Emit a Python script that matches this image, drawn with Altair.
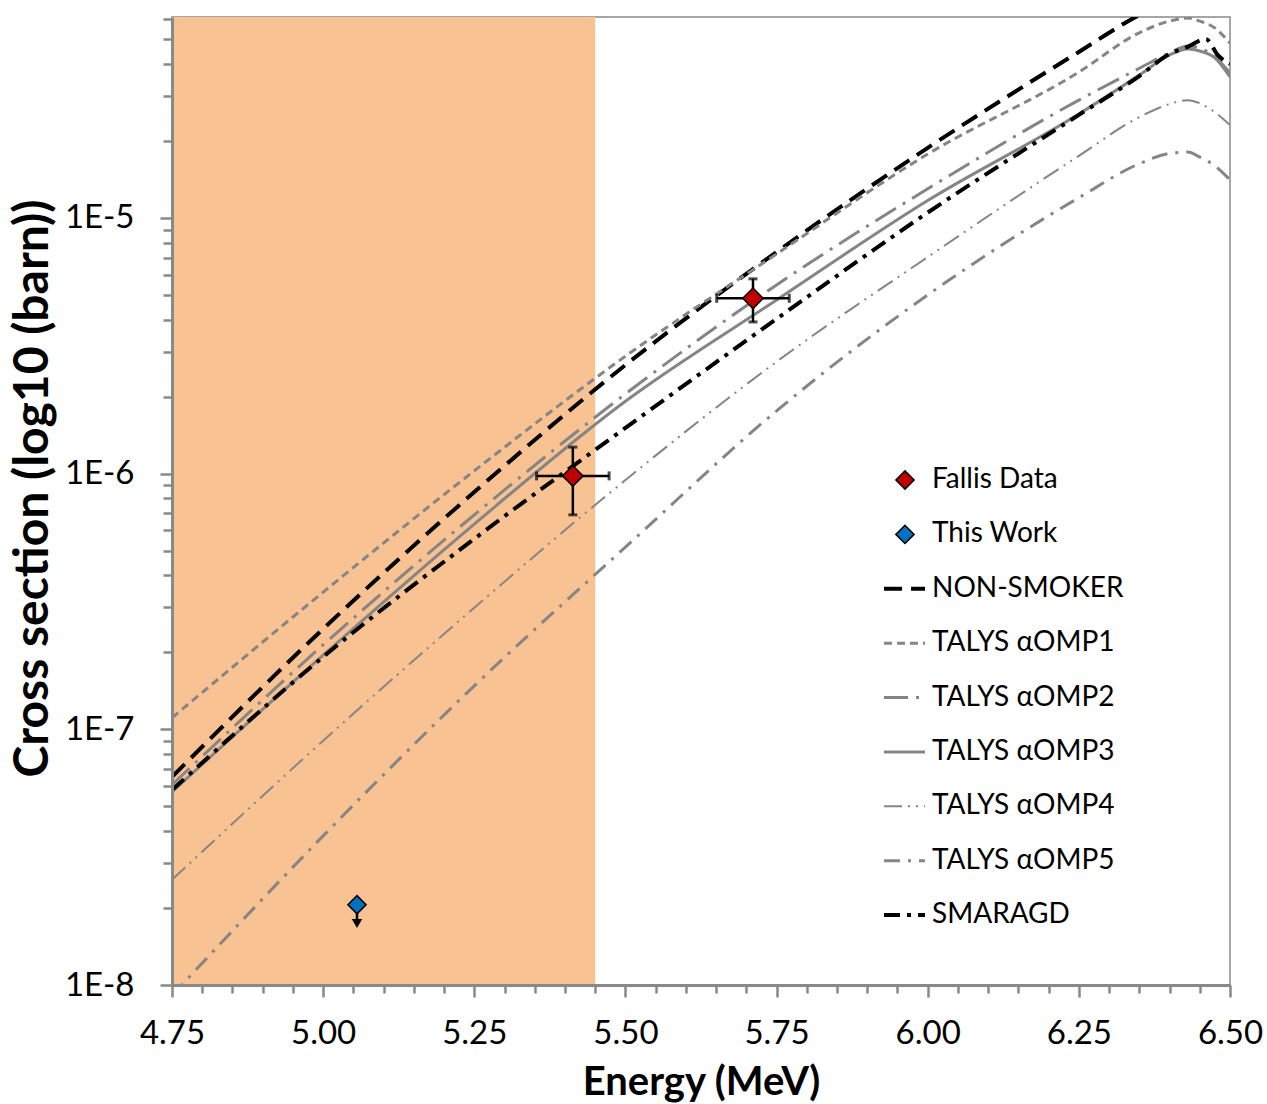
import altair as alt
import pandas as pd

# ---------------- data ----------------
series_names = ["NON-SMOKER", "TALYS αOMP1", "TALYS αOMP2", "TALYS αOMP3",
                "TALYS αOMP4", "TALYS αOMP5", "SMARAGD"]

energy_grid = [4.75, 5.00, 5.25, 5.50, 5.75, 6.00, 6.25, 6.35, 6.40, 6.43, 6.45, 6.475, 6.50]
smaragd_energy = [4.75, 5.00, 5.25, 5.50, 5.75, 6.00, 6.25, 6.35, 6.40, 6.43, 6.46, 6.48, 6.50]

non_smoker = [6.52e-8, 2.47e-7, 8.47e-7, 2.66e-6, 7.36e-6, 1.88e-5, 4.46e-5, 6.22e-5, 7.08e-5, 7.4e-5, 7.6e-5, 7.6e-5, 7.4e-5]
talys1 = [1.109e-7, 3.44e-7, 1.026e-6, 2.88e-6, 7.23e-6, 1.778e-5, 3.72e-5, 5.30e-5, 5.89e-5, 6.05e-5, 5.89e-5, 5.53e-5, 4.83e-5]
talys2 = [6.07e-8, 2.14e-7, 6.90e-7, 2.05e-6, 5.47e-6, 1.30e-5, 2.89e-5, 3.85e-5, 4.42e-5, 4.71e-5, 4.62e-5, 4.27e-5, 3.69e-5]
talys3 = [5.69e-8, 1.95e-7, 6.35e-7, 1.92e-6, 4.78e-6, 1.17e-5, 2.55e-5, 3.62e-5, 4.34e-5, 4.58e-5, 4.50e-5, 4.23e-5, 3.56e-5]
talys4 = [2.58e-8, 9.02e-8, 2.99e-7, 9.44e-7, 2.74e-6, 7.03e-6, 1.75e-5, 2.48e-5, 2.79e-5, 2.89e-5, 2.81e-5, 2.59e-5, 2.31e-5]
talys5 = [9.1e-9, 3.83e-8, 1.48e-7, 5.16e-7, 1.76e-6, 5.0e-6, 1.20e-5, 1.63e-5, 1.79e-5, 1.81e-5, 1.73e-5, 1.60e-5, 1.41e-5]
smaragd = [5.79e-8, 1.92e-7, 5.56e-7, 1.51e-6, 4.03e-6, 1.05e-5, 2.53e-5, 3.59e-5, 4.38e-5, 4.67e-5, 5.01e-5, 4.33e-5, 4.00e-5]

fallis_energy = [5.413, 5.711]
fallis_energy_err = [0.06, 0.06]
fallis_xs = [9.8e-7, 4.85e-6]
fallis_xs_err = [2.9e-7, 0.93e-6]

this_work_energy = [5.056]
this_work_xs = [2.06e-8]
this_work_arrow_tip = [1.74e-8]

shade_range = [4.75, 5.45]

x_major_ticks = [4.75, 5.00, 5.25, 5.50, 5.75, 6.00, 6.25, 6.50]
y_decades = [-8, -7, -6, -5]

# ---------------- styling ----------------
GRAY = "#858585"
line_colors = ["#000000", GRAY, GRAY, GRAY, GRAY, GRAY, "#000000"]
line_dashes = [[18, 9], [8, 5], [24, 8, 3, 8], None, [18, 6, 2, 6, 2, 6], [16, 8, 3, 8], [16, 7, 4, 7]]
line_widths = [4, 3, 3, 3, 2, 3, 4]

W, H = 1058, 968
FONT = "Lato"

# ---------------- tables ----------------
curves = [non_smoker, talys1, talys2, talys3, talys4, talys5, smaragd]
grids = [energy_grid] * 6 + [smaragd_energy]
line_frames = [pd.DataFrame({"energy": g, "xs": v}) for g, v in zip(grids, curves)]

df_fallis = pd.DataFrame({
    "energy": fallis_energy,
    "xs": fallis_xs,
    "e_lo": [e - d for e, d in zip(fallis_energy, fallis_energy_err)],
    "e_hi": [e + d for e, d in zip(fallis_energy, fallis_energy_err)],
    "xs_lo": [v - d for v, d in zip(fallis_xs, fallis_xs_err)],
    "xs_hi": [v + d for v, d in zip(fallis_xs, fallis_xs_err)],
})
df_this = pd.DataFrame({"energy": this_work_energy, "xs": this_work_xs, "tip": this_work_arrow_tip})
df_shade = pd.DataFrame({"energy": [shade_range[0]], "x1": [shade_range[1]]})

x_minor = [round(4.75 + 0.05 * i, 2) for i in range(36)]
y_ticks = []
for d in y_decades:
    for m in range(1, 10):
        v = m * 10.0 ** d
        if v <= 6.1e-5:
            y_ticks.append(v)

x_major_test = "abs(datum.value*4 - round(datum.value*4)) < 0.001"
y_major_test = "abs(log(datum.value)/LN10 - round(log(datum.value)/LN10)) < 0.001"

x_scale = alt.Scale(domain=[4.75, 6.50], nice=False, zero=False)
y_scale = alt.Scale(type="log", domain=[1e-8, 6.11e-5], nice=False)

x_axis = alt.Axis(
    values=x_minor,
    labelExpr=f"{x_major_test} ? format(datum.value, '.2f') : ''",
    tickSize={"condition": {"test": x_major_test, "value": 12}, "value": 8},
    title="Energy (MeV)", titleY=109, titleBaseline="alphabetic", titleFontSize=40,
    labelPadding=20, labelFlush=False, labelOverlap=False, zindex=2)
y_axis = alt.Axis(
    values=y_ticks,
    labelExpr=f"{y_major_test} ? '1E' + round(log(datum.value)/LN10) : ''",
    tickSize={"condition": {"test": y_major_test, "value": 12}, "value": 9},
    title="Cross section (log10 (barn))", titleX=-125, titleY=471,
    titleBaseline="alphabetic", titleAngle=270, titleFontSize=48,
    labelPadding=26, labelFlush=False, labelOverlap=False, zindex=2)

X = lambda f: alt.X(f, scale=x_scale, axis=x_axis, title="Energy (MeV)")
Y = lambda f: alt.Y(f, scale=y_scale, axis=y_axis, title="Cross section (log10 (barn))")

shade = alt.Chart(df_shade).mark_rect(color="#F8C293").encode(
    x=X("energy:Q"), x2="x1:Q", y=alt.value(0), y2=alt.value(H))

line_layers = []
for df, c, d, w in zip(line_frames, line_colors, line_dashes, line_widths):
    kw = dict(interpolate="monotone", clip=True, color=c, strokeWidth=w)
    if d is not None:
        kw["strokeDash"] = d
    line_layers.append(alt.Chart(df).mark_line(**kw).encode(x=X("energy:Q"), y=Y("xs:Q")))

hbar = alt.Chart(df_fallis).mark_rule(color="black", strokeWidth=2.5).encode(
    x=X("e_lo:Q"), x2="e_hi:Q", y=Y("xs:Q"))
vbar = alt.Chart(df_fallis).mark_rule(color="black", strokeWidth=2.5).encode(
    x=X("energy:Q"), y=Y("xs_lo:Q"), y2="xs_hi:Q")
caps = []
for fx, fy, orient in [("energy", "xs_lo", "horizontal"), ("energy", "xs_hi", "horizontal"),
                       ("e_lo", "xs", "vertical"), ("e_hi", "xs", "vertical")]:
    caps.append(alt.Chart(df_fallis).mark_tick(orient=orient, color="black", size=9, thickness=3).encode(
        x=X(f"{fx}:Q"), y=Y(f"{fy}:Q")))
fallis_pts = alt.Chart(df_fallis).mark_point(
    shape="diamond", filled=True, fill="#C00000", stroke="black", strokeWidth=1.5,
    size=420, opacity=1).encode(x=X("energy:Q"), y=Y("xs:Q"))

arrow_stem = alt.Chart(df_this).mark_rule(color="black", strokeWidth=2.5).encode(
    x=X("energy:Q"), y=Y("xs:Q"), y2="tip:Q")
arrow_head = alt.Chart(df_this).mark_point(
    shape="triangle-down", filled=True, color="black", size=110, opacity=1).encode(
    x=X("energy:Q"), y=Y("tip:Q"))
this_pts = alt.Chart(df_this).mark_point(
    shape="diamond", filled=True, fill="#0070C0", stroke="black", strokeWidth=1.5,
    size=330, opacity=1).encode(x=X("energy:Q"), y=Y("xs:Q"))

data_layers = alt.layer(shade, *line_layers, hbar, vbar, *caps,
                        fallis_pts, arrow_stem, arrow_head, this_pts)

# ---------------- manual legend ----------------
legend_labels = ["Fallis Data", "This Work"] + series_names
df_leg = pd.DataFrame({"row": list(range(len(legend_labels))), "label": legend_labels})
leg_y = alt.Scale(domain=[0, 8], range=[463, 898])

leg_text = alt.Chart(df_leg).mark_text(align="left", baseline="middle", font=FONT,
                                       fontSize=28, color="black").encode(
    x=alt.value(760), y=alt.Y("row:Q", scale=leg_y, axis=None), text="label:N")
leg_layers = []
for i, (c, d, w) in enumerate(zip(line_colors, line_dashes, line_widths)):
    kw = dict(color=c, strokeWidth=w)
    if d is not None:
        kw["strokeDash"] = d
    leg_layers.append(alt.Chart(df_leg[df_leg["row"] == i + 2]).mark_rule(**kw).encode(
        x=alt.value(712), x2=alt.value(753), y=alt.Y("row:Q", scale=leg_y, axis=None)))
for i, col in enumerate(["#C00000", "#0070C0"]):
    leg_layers.append(alt.Chart(df_leg[df_leg["row"] == i]).mark_point(
        shape="diamond", filled=True, fill=col, stroke="black", strokeWidth=1.5,
        size=330, opacity=1).encode(
        x=alt.value(733), y=alt.Y("row:Q", scale=leg_y, axis=None)))
legend_layer = alt.layer(*leg_layers, leg_text)

chart = alt.layer(data_layers, legend_layer).resolve_scale(y="independent").properties(
    width=W, height=H,
    padding={"left": 172, "top": 17, "right": 37, "bottom": 119},
    autosize="none",
).configure_axis(
    labelFont=FONT, labelFontSize=33, labelColor="black",
    titleFont=FONT, titleFontWeight="bold", titleColor="black",
    domainColor="#898989", domainWidth=3, tickColor="#898989", tickWidth=2.5,
    grid=False,
).configure_view(stroke="#A6A6A6", strokeWidth=2)

chart.save("out.html", embed_options={"renderer": "svg", "actions": False})
